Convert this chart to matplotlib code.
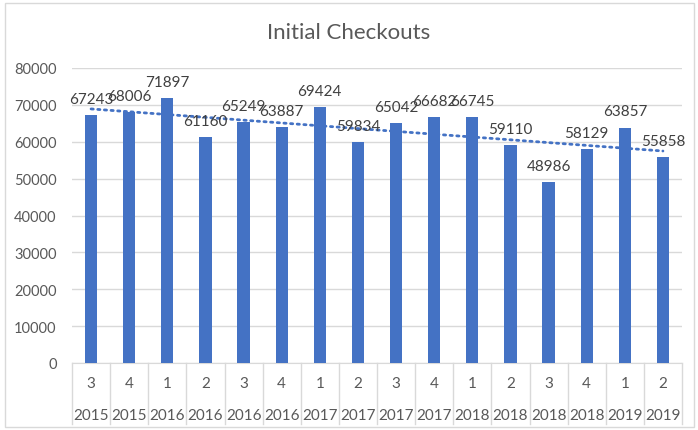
import numpy as np
import matplotlib.pyplot as plt
from matplotlib.patches import Rectangle

plt.rcParams['font.family'] = ['Lato', 'DejaVu Sans']

# data
quarters = ["3", "4", "1", "2", "3", "4", "1", "2", "3", "4", "1", "2", "3", "4", "1", "2"]
years = ["2015", "2015", "2016", "2016", "2016", "2016", "2017", "2017",
         "2017", "2017", "2018", "2018", "2018", "2018", "2019", "2019"]
checkouts = [67243, 68006, 71897, 61160, 65249, 63887, 69424, 59834,
             65042, 66682, 66745, 59110, 48986, 58129, 63857, 55858]

blue = "#4472C4"
txt = "#595959"
grid = "#D9D9D9"

fig = plt.figure(figsize=(6.98, 4.31), dpi=100)
ax = fig.add_axes([72/698, 1 - 364/431, 610/698, 295/431])

x = np.arange(len(checkouts))
ax.bar(x, checkouts, width=0.32, color=blue, zorder=3)

# linear trendline
k, b = np.polyfit(x, checkouts, 1)
ax.plot(x, k*x + b, color=blue, lw=2, linestyle=(0, (0.8, 1.6)),
        dash_capstyle="round", zorder=4)

for xi, v in zip(x, checkouts):
    ax.annotate(str(v), (xi, v), xytext=(0, 6.5), textcoords="offset points",
                ha="center", va="bottom", fontsize=11, color="#404040", zorder=5)

ax.set_xlim(-0.5, len(checkouts) - 0.5)
ax.set_ylim(0, 80000)
ax.set_yticks(range(0, 80001, 10000))
ax.tick_params(axis="y", length=0, labelsize=10.5, labelcolor=txt, pad=11)
ax.set_xticks([])
ax.yaxis.grid(True, color=grid, lw=1, zorder=0)
for s in ["top", "right", "left"]:
    ax.spines[s].set_visible(False)
ax.spines["bottom"].set_color(grid)

# two-level category axis
tr = ax.get_xaxis_transform()
for i in range(len(checkouts) + 1):
    ax.plot([i - 0.5, i - 0.5], [0, -0.207], transform=tr, color=grid, lw=1, clip_on=False)
for i in range(len(checkouts)):
    ax.text(i, -0.068, quarters[i], transform=tr, ha="center", va="center", fontsize=11, color=txt)
    ax.text(i, -0.176, years[i], transform=tr, ha="center", va="center", fontsize=11, color=txt)

fig.text(0.5, 1 - 33/431, "Initial Checkouts", ha="center", va="center", fontsize=16, color=txt)

fig.patches.append(Rectangle((5/698, 3/431), 689/698, 424/431, transform=fig.transFigure,
                             fill=False, edgecolor=grid, lw=1))

fig.savefig("out.png", dpi=100)
